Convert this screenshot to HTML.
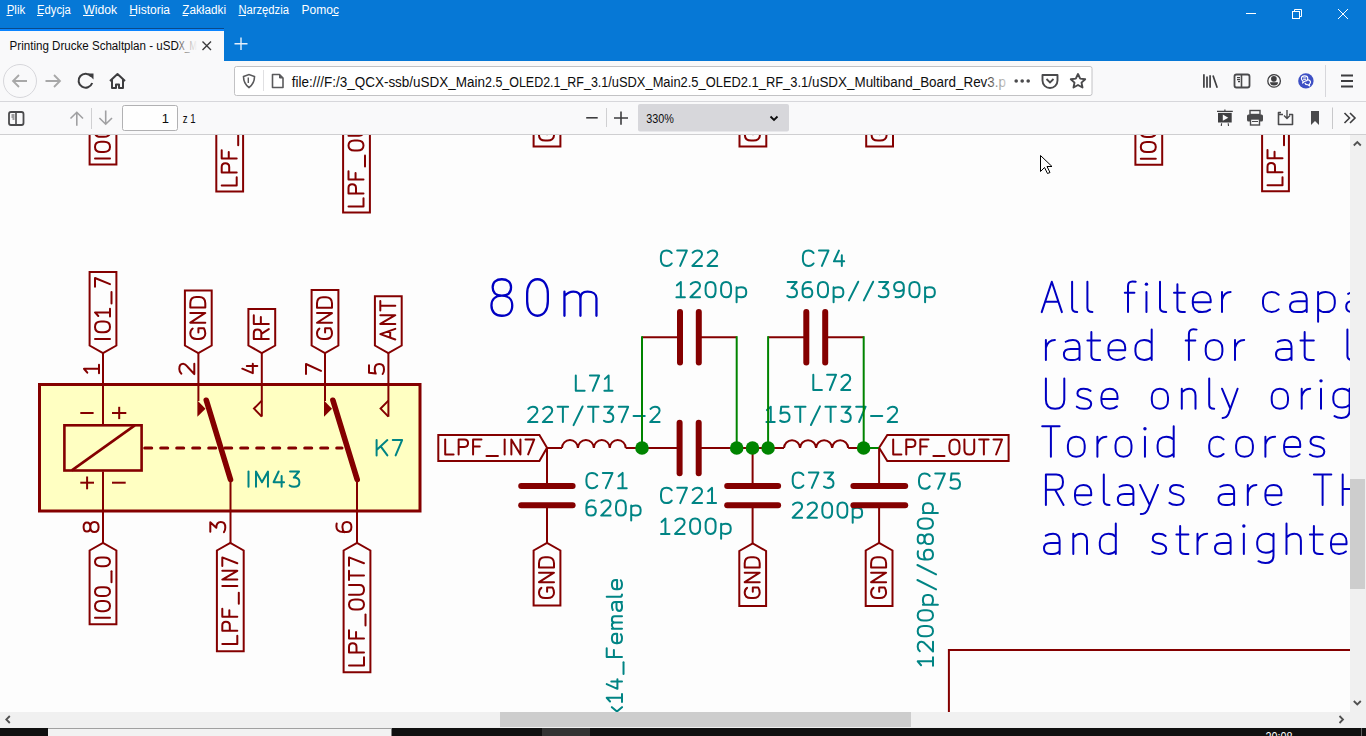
<!DOCTYPE html>
<html><head><meta charset="utf-8"><title>uSDX</title>
<style>html,body{margin:0;padding:0;width:1366px;height:736px;overflow:hidden;background:#f9f9fa}svg{display:block}text{font-family:"Liberation Sans",sans-serif}</style>
</head><body>
<svg width="1366" height="736" viewBox="0 0 1366 736" font-family='"Liberation Sans", sans-serif'>
<rect x="0" y="0" width="1366" height="61" fill="#0678d6"/>
<text x="6.7" y="13.8" font-size="12.3" fill="#ffffff" textLength="18.5" lengthAdjust="spacingAndGlyphs" >Plik</text>
<text x="37.1" y="13.8" font-size="12.3" fill="#ffffff" textLength="33.8" lengthAdjust="spacingAndGlyphs" >Edycja</text>
<text x="83.3" y="13.8" font-size="12.3" fill="#ffffff" textLength="33.8" lengthAdjust="spacingAndGlyphs" >Widok</text>
<text x="129.3" y="13.8" font-size="12.3" fill="#ffffff" textLength="40.7" lengthAdjust="spacingAndGlyphs" >Historia</text>
<text x="182.3" y="13.8" font-size="12.3" fill="#ffffff" textLength="43.7" lengthAdjust="spacingAndGlyphs" >Zakładki</text>
<text x="238.4" y="13.8" font-size="12.3" fill="#ffffff" textLength="50.5" lengthAdjust="spacingAndGlyphs" >Narzędzia</text>
<text x="301.5" y="13.8" font-size="12.3" fill="#ffffff" textLength="37.4" lengthAdjust="spacingAndGlyphs" >Pomoc</text>
<rect x="6.5" y="15" width="6.300000000000001" height="1" fill="#ffffff"/>
<rect x="37" y="15" width="6" height="1" fill="#ffffff"/>
<rect x="83" y="15" width="11" height="1" fill="#ffffff"/>
<rect x="129.5" y="15" width="6.5" height="1" fill="#ffffff"/>
<rect x="182.5" y="15" width="5.5" height="1" fill="#ffffff"/>
<rect x="238.5" y="15" width="7.5" height="1" fill="#ffffff"/>
<rect x="332" y="15" width="6.5" height="1" fill="#ffffff"/>
<rect x="1246" y="13" width="10" height="1" fill="#fff"/>
<rect x="1292.5" y="11.5" width="7" height="7" fill="none" stroke="#fff" stroke-width="1"/>
<path d="M1294.5 11.5V9.5H1301.5V16.5H1299.5" fill="none" stroke="#fff" stroke-width="1"/>
<path d="M1338 9L1348 19M1348 9L1338 19" stroke="#fff" stroke-width="1"/>
<rect x="0" y="28" width="224" height="33" fill="#f9f9fa"/>
<rect x="0" y="28" width="224" height="1" fill="#0a4a8a"/>
<rect x="0" y="29" width="224" height="2" fill="#0a84ff"/>
<defs><linearGradient id="fade" x1="0" x2="1"><stop offset="0" stop-color="#0c0c0d"/><stop offset="0.82" stop-color="#0c0c0d"/><stop offset="1" stop-color="#0c0c0d" stop-opacity="0"/></linearGradient></defs>
<text x="9.6" y="49.9" font-size="12.3" fill="#0c0c0d" textLength="169.2" lengthAdjust="spacingAndGlyphs" >Printing Drucke Schaltplan - uSD</text>
<defs><linearGradient id="fade2" gradientUnits="userSpaceOnUse" x1="178" x2="196" y1="0" y2="0"><stop offset="0" stop-color="#0c0c0d" stop-opacity="0.75"/><stop offset="1" stop-color="#0c0c0d" stop-opacity="0.05"/></linearGradient></defs>
<text x="178.8" y="49.9" font-size="12.3" fill="url(#fade2)" textLength="18.2" lengthAdjust="spacingAndGlyphs" >X_M</text>
<path d="M202.5 41.5L211 50M211 41.5L202.5 50" stroke="#3a3a3c" stroke-width="1.4"/>
<path d="M241 37.5V50M234.5 43.8H247.5" stroke="#e6f0fb" stroke-width="1.4"/>
<rect x="0" y="61" width="1366" height="41" fill="#f9f9fa"/>
<rect x="0" y="101" width="1366" height="1" fill="#d7d7db"/>
<circle cx="20" cy="81" r="16.5" fill="#f9f9fa" stroke="#d7d7db" stroke-width="1"/>
<path d="M27 81H13M19 75L13 81L19 87" fill="none" stroke="#a8a8a8" stroke-width="1.8" stroke-linejoin="miter"/>
<path d="M45.5 81H60M54 75L60 81L54 87" fill="none" stroke="#a8a8a8" stroke-width="1.8"/>
<path d="M92.2 83 A7 7 0 1 1 91.2 76.5" fill="none" stroke="#3d3d3f" stroke-width="2"/><path d="M87.5 73.5H93.5V79.5Z" fill="#3d3d3f"/>
<path d="M110 81L117.5 74L125 81M112 79.5V88H116V84.5H119V88H123V79.5" fill="none" stroke="#3d3d3f" stroke-width="2" stroke-linejoin="round"/>
<rect x="234.5" y="66.5" width="857.5" height="29" rx="2" fill="#ffffff" stroke="#c2c2c4" stroke-width="1"/>
<path d="M243.5 76.5L249 74.5L254.5 76.5C254.5 82 252.5 85 249 87.5C245.5 85 243.5 82 243.5 76.5Z" fill="none" stroke="#5a5a5c" stroke-width="1.6"/><path d="M248.3 77.5V83" stroke="#5a5a5c" stroke-width="1.4"/>
<rect x="263" y="70" width="1" height="21" fill="#e0e0e2"/>
<path d="M272.5 74.5H279.5L283 78V87.5H272.5Z" fill="none" stroke="#5a5a5c" stroke-width="1.6" stroke-linejoin="round"/><path d="M279.5 74.5V78H283" fill="#5a5a5c" stroke="#5a5a5c" stroke-width="1"/>
<defs><linearGradient id="ufade" x1="0" x2="1"><stop offset="0" stop-color="#0c0c0d"/><stop offset="0.968" stop-color="#0c0c0d"/><stop offset="0.982" stop-color="#0c0c0d" stop-opacity="0.55"/><stop offset="1" stop-color="#0c0c0d" stop-opacity="0.25"/></linearGradient></defs>
<text x="291.8" y="87.0" font-size="14" fill="#0c0c0d" textLength="193.2" lengthAdjust="spacingAndGlyphs" >file:///F:/3_QCX-ssb/uSDX_Main</text>
<text x="485.0" y="87.0" font-size="14" fill="#0c0c0d" textLength="123.2" lengthAdjust="spacingAndGlyphs" >2.5_OLED2.1_RF_3.1</text>
<text x="608.2" y="87.0" font-size="14" fill="#0c0c0d" textLength="200.0" lengthAdjust="spacingAndGlyphs" >/uSDX_Main2.5_OLED2.1_RF_3.1</text>
<defs><linearGradient id="ufade2" gradientUnits="userSpaceOnUse" x1="975" x2="1006" y1="0" y2="0"><stop offset="0" stop-color="#0c0c0d"/><stop offset="0.35" stop-color="#0c0c0d"/><stop offset="0.6" stop-color="#0c0c0d" stop-opacity="0.55"/><stop offset="1" stop-color="#0c0c0d" stop-opacity="0.22"/></linearGradient></defs>
<text x="808.2" y="87.0" font-size="14" fill="url(#ufade2)" textLength="197.8" lengthAdjust="spacingAndGlyphs" >/uSDX_Multiband_Board_Rev3.p</text>
<circle cx="1016.2" cy="81" r="1.8" fill="#4a4a4c"/>
<circle cx="1022.2" cy="81" r="1.8" fill="#4a4a4c"/>
<circle cx="1028.2" cy="81" r="1.8" fill="#4a4a4c"/>
<path d="M1042.5 75H1057.5V80.5A7.5 7.5 0 0 1 1042.5 80.5Z" fill="none" stroke="#4a4a4c" stroke-width="1.9" stroke-linejoin="round"/><path d="M1046.5 79L1050 82.5L1053.5 79" fill="none" stroke="#4a4a4c" stroke-width="1.8"/>
<path d="M1078 74L1080.2 78.6L1085.2 79.2L1081.5 82.6L1082.5 87.5L1078 85L1073.5 87.5L1074.5 82.6L1070.8 79.2L1075.8 78.6Z" fill="none" stroke="#4a4a4c" stroke-width="1.9" stroke-linejoin="round"/>
<path d="M1203.9 74.2V87.8M1207 76.4V87.8M1210.1 75.3V87.8M1213 75.4L1217.2 87.8" stroke="#3f3f41" stroke-width="1.7"/>
<rect x="1234.5" y="74.5" width="15" height="13" rx="2" fill="none" stroke="#4a4a4c" stroke-width="1.8"/><path d="M1241.5 74.5V87.5" stroke="#4a4a4c" stroke-width="1.6"/><path d="M1237 77.6H1240M1237 79.6H1240M1238 81.6H1240" stroke="#3f3f41" stroke-width="1.1"/>
<circle cx="1274.1" cy="80.9" r="6.3" fill="none" stroke="#3f3f41" stroke-width="1.3"/><circle cx="1273.9" cy="78.8" r="2.85" fill="#3f3f41"/><path d="M1270 82.3H1278A4 3.2 0 0 1 1270 82.3Z" fill="#3f3f41"/>
<circle cx="1305.9" cy="80.9" r="7.7" fill="#3e50c4"/><path d="M1301.4 78.6C1301.4 76.9 1302.9 75.9 1304.6 75.9C1306.3 75.9 1307.8 76.9 1307.8 78.6C1307.8 80.3 1306.3 81.3 1304.6 81.3L1302.6 83.2L1303 81C1302 80.5 1301.4 79.7 1301.4 78.6Z" fill="#3e50c4" stroke="#fff" stroke-width="1.1" stroke-linejoin="round"/><path d="M1307.8 79.8C1309.3 80 1310.5 81 1310.5 82.3C1310.5 83.2 1310 83.8 1309.3 84.2L1309.7 86L1307.8 84.8C1306.4 84.8 1305.2 84.1 1304.9 83" fill="none" stroke="#fff" stroke-width="1.1" stroke-linejoin="round"/><path d="M1303.1 77.9H1306.1M1303.1 79.4H1306.1" stroke="#fff" stroke-width="0.9"/>
<rect x="1325" y="65" width="1" height="32" fill="#d7d7db"/>
<path d="M1341 75.5H1353M1341 81H1353M1341 86.5H1353" stroke="#3d3d3f" stroke-width="1.8"/>
<rect x="0" y="102" width="1366" height="33" fill="#f9f9fa"/>
<rect x="0" y="134" width="1366" height="1" fill="#cfcfd1"/>
<rect x="9" y="112" width="14.5" height="13" rx="2" fill="none" stroke="#4a4a4c" stroke-width="1.8"/><path d="M16 112V125" stroke="#4a4a4c" stroke-width="1.6"/><path d="M11.5 115H14.5M11.5 117H14.5M12.5 119H14.5" stroke="#3f3f41" stroke-width="1.1"/>
<path d="M76.8 125.8V112.5M70.5 118.5L76.8 112.3L83 118.5" fill="none" stroke="#a0a0a2" stroke-width="1.6"/>
<rect x="91" y="108" width="1" height="21" fill="#d0d0d2"/>
<path d="M105.7 110.5V124M99.4 118L105.7 124.2L112 118" fill="none" stroke="#a0a0a2" stroke-width="1.6"/>
<rect x="122.5" y="105.5" width="55" height="25" rx="2" fill="#fefefe" stroke="#b1b1b3" stroke-width="1"/>
<text x="169.0" y="123.1" font-size="13" fill="#0c0c0d" text-anchor="end" >1</text>
<text x="182.8" y="123.1" font-size="13" fill="#0c0c0d" textLength="12.8" lengthAdjust="spacingAndGlyphs" >z 1</text>
<path d="M586.2 117.8H597.7" stroke="#3d3d3f" stroke-width="1.6"/>
<rect x="606" y="108" width="1" height="19" fill="#d0d0d2"/>
<path d="M614 118H628M621 111.5V124.7" stroke="#3d3d3f" stroke-width="1.6"/>
<rect x="638" y="104" width="151" height="27.5" rx="2" fill="#d7d7db"/>
<text x="646.2" y="122.7" font-size="12.5" fill="#0c0c0d" textLength="27.6" lengthAdjust="spacingAndGlyphs" >330%</text>
<path d="M770.5 116.5L774 120L777.5 116.5" fill="none" stroke="#0c0c0d" stroke-width="1.8"/>
<path d="M1217 111.4H1232.8M1224.9 109.6V111.4" stroke="#3f3f41" stroke-width="1.2"/><rect x="1218" y="112.9" width="13.7" height="9.6" fill="#3f3f41"/><path d="M1222.8 114.6V120.8L1228.3 117.7Z" fill="#f9f9fa"/><path d="M1221.6 123.3L1221.3 126M1228.2 123.3L1228.5 126" stroke="#3f3f41" stroke-width="1.1"/>
<rect x="1250" y="110.5" width="10" height="4" fill="none" stroke="#4a4a4c" stroke-width="1.4"/><rect x="1247" y="114.5" width="16" height="7" rx="1.5" fill="#4a4a4c"/><rect x="1250.5" y="119" width="9" height="6" fill="#f9f9fa" stroke="#4a4a4c" stroke-width="1.4"/><path d="M1252 121.5H1258" stroke="#4a4a4c" stroke-width="1"/>
<path d="M1281 112.5H1278.5V124.5H1292.5V114.5H1289M1278.5 114.5H1283" fill="none" stroke="#4a4a4c" stroke-width="1.6" stroke-linejoin="round"/><path d="M1287 110V118.5M1284 115.5L1287 118.5L1290 115.5" fill="none" stroke="#4a4a4c" stroke-width="1.4"/>
<path d="M1311 111H1319V125L1315 121L1311 125Z" fill="#4a4a4c"/>
<rect x="1332" y="107.5" width="1" height="21.5" fill="#c8c8ca"/>
<path d="M1344.5 113L1349.5 118L1344.5 123M1350 113L1355 118L1350 123" fill="none" stroke="#3d3d3f" stroke-width="1.6"/>
<svg x="0" y="135" width="1350" height="577" viewBox="0 135 1350 577" overflow="hidden">
<rect x="0" y="135" width="1350" height="577" fill="#fdfdfd"/>
<g font-family='"Liberation Sans", sans-serif'>
<defs><path id="k65" d="M0 0L.33 -1L.66 0M.12 -.34L.54 -.34" vector-effect="non-scaling-stroke"/><path id="k67" d="M.58 -.84C.52 -.95 .42 -1 .3 -1C.1 -1 0 -.82 0 -.58L0 -.42C0 -.18 .1 0 .3 0C.42 0 .52 -.05 .58 -.16" vector-effect="non-scaling-stroke"/><path id="k68" d="M0 0L0 -1L.24 -1C.46 -1 .58 -.84 .58 -.6L.58 -.4C.58 -.16 .46 0 .24 0Z" vector-effect="non-scaling-stroke"/><path id="k70" d="M.5 -1L0 -1L0 0M0 -.53L.4 -.53" vector-effect="non-scaling-stroke"/><path id="k71" d="M.58 -.84C.52 -.95 .42 -1 .3 -1C.1 -1 0 -.82 0 -.58L0 -.42C0 -.18 .1 0 .3 0C.42 0 .52 -.04 .6 -.1L.6 -.46L.36 -.46" vector-effect="non-scaling-stroke"/><path id="k72" d="M0 -1L0 0M.6 -1L.6 0M0 -.53L.6 -.53" vector-effect="non-scaling-stroke"/><path id="k73" d="M0 -1L0 0" vector-effect="non-scaling-stroke"/><path id="k75" d="M0 -1L0 0M.6 -1L0 -.36M.22 -.6L.6 0" vector-effect="non-scaling-stroke"/><path id="k76" d="M0 -1L0 0L.5 0" vector-effect="non-scaling-stroke"/><path id="k77" d="M0 0L0 -1L.32 -.3L.64 -1L.64 0" vector-effect="non-scaling-stroke"/><path id="k78" d="M0 0L0 -1L.54 0L.54 -1" vector-effect="non-scaling-stroke"/><path id="k79" d="M.31 -1C.1 -1 0 -.84 0 -.6L0 -.4C0 -.16 .1 0 .31 0C.52 0 .62 -.16 .62 -.4L.62 -.6C.62 -.84 .52 -1 .31 -1Z" vector-effect="non-scaling-stroke"/><path id="k80" d="M0 0L0 -1L.34 -1C.49 -1 .56 -.9 .56 -.76C.56 -.6 .49 -.5 .34 -.5L0 -.5" vector-effect="non-scaling-stroke"/><path id="k82" d="M0 0L0 -1L.34 -1C.49 -1 .56 -.9 .56 -.76C.56 -.6 .49 -.5 .34 -.5L0 -.5M.3 -.5L.58 0" vector-effect="non-scaling-stroke"/><path id="k83" d="M.54 -.88C.46 -.97 .38 -1 .27 -1C.1 -1 .02 -.9 .02 -.76C.02 -.6 .14 -.56 .28 -.52C.46 -.47 .56 -.4 .56 -.25C.56 -.08 .44 0 .28 0C.14 0 .06 -.04 0 -.1" vector-effect="non-scaling-stroke"/><path id="k84" d="M0 -1L.58 -1M.29 -1L.29 0" vector-effect="non-scaling-stroke"/><path id="k85" d="M0 -1L0 -.3C0 -.1 .12 0 .3 0C.48 0 .6 -.1 .6 -.3L.6 -1" vector-effect="non-scaling-stroke"/><path id="k88" d="M0 -1L.6 0M.6 -1L0 0" vector-effect="non-scaling-stroke"/><path id="k97" d="M.06 -.6C.14 -.65 .22 -.66 .3 -.66C.45 -.66 .52 -.58 .52 -.44L.52 0M.52 -.36L.22 -.36C.08 -.36 0 -.29 0 -.18C0 -.07 .08 0 .22 0L.3 0C.4 0 .48 -.04 .52 -.1" vector-effect="non-scaling-stroke"/><path id="k99" d="M.5 -.57C.44 -.63 .37 -.66 .28 -.66C.1 -.66 0 -.54 0 -.38L0 -.28C0 -.12 .1 0 .28 0C.37 0 .44 -.03 .5 -.09" vector-effect="non-scaling-stroke"/><path id="k100" d="M.52 -1L.52 0M.52 -.1C.46 -.03 .38 0 .28 0C.1 0 0 -.12 0 -.28L0 -.38C0 -.54 .1 -.66 .28 -.66C.38 -.66 .46 -.63 .52 -.56" vector-effect="non-scaling-stroke"/><path id="k101" d="M.02 -.32L.54 -.32L.54 -.4C.54 -.56 .44 -.66 .28 -.66C.1 -.66 0 -.54 0 -.38L0 -.28C0 -.12 .1 0 .28 0C.38 0 .46 -.03 .52 -.08" vector-effect="non-scaling-stroke"/><path id="k102" d="M.34 -1C.3 -1.01 .27 -1.01 .24 -1.01C.14 -1.01 .1 -.95 .1 -.85L.1 0M0 -.64L.3 -.64" vector-effect="non-scaling-stroke"/><path id="k103" d="M.52 -.66L.52 .06C.52 .22 .42 .3 .26 .3C.18 .3 .1 .28 .04 .24M.52 -.56C.46 -.63 .38 -.66 .28 -.66C.1 -.66 0 -.54 0 -.4L0 -.3C0 -.14 .1 -.04 .28 -.04C.38 -.04 .46 -.07 .52 -.14" vector-effect="non-scaling-stroke"/><path id="k104" d="M0 -1L0 0M0 -.54C.08 -.62 .16 -.66 .26 -.66C.4 -.66 .48 -.58 .48 -.44L.48 0" vector-effect="non-scaling-stroke"/><path id="k105" d="M0 -.66L0 0" vector-effect="non-scaling-stroke"/><path id="k108" d="M0 -1L0 -.14C0 -.05 .04 0 .14 0" vector-effect="non-scaling-stroke"/><path id="k109" d="M0 -.66L0 0M0 -.54C.06 -.62 .12 -.66 .2 -.66C.3 -.66 .36 -.59 .36 -.48L.36 0M.36 -.48C.36 -.59 .42 -.66 .52 -.66C.64 -.66 .72 -.59 .72 -.48L.72 0" vector-effect="non-scaling-stroke"/><path id="k110" d="M0 -.66L0 0M0 -.54C.08 -.62 .16 -.66 .25 -.66C.38 -.66 .46 -.58 .46 -.44L.46 0" vector-effect="non-scaling-stroke"/><path id="k111" d="M.27 -.66C.09 -.66 0 -.54 0 -.38L0 -.28C0 -.12 .09 0 .27 0C.45 0 .54 -.12 .54 -.28L.54 -.38C.54 -.54 .45 -.66 .27 -.66Z" vector-effect="non-scaling-stroke"/><path id="k112" d="M0 -.66L0 .32M0 -.56C.06 -.63 .14 -.66 .24 -.66C.42 -.66 .52 -.54 .52 -.38L.52 -.28C.52 -.12 .42 0 .24 0C.14 0 .06 -.03 0 -.1" vector-effect="non-scaling-stroke"/><path id="k114" d="M0 -.66L0 0M0 -.4C.04 -.56 .14 -.66 .3 -.66" vector-effect="non-scaling-stroke"/><path id="k115" d="M.44 -.59C.38 -.64 .31 -.66 .22 -.66C.09 -.66 .02 -.59 .02 -.5C.02 -.4 .1 -.37 .23 -.35C.38 -.32 .46 -.27 .46 -.17C.46 -.06 .37 0 .23 0C.13 0 .06 -.02 0 -.07" vector-effect="non-scaling-stroke"/><path id="k116" d="M.1 -.92L.1 -.14C.1 -.05 .15 0 .24 0L.32 0M0 -.64L.32 -.64" vector-effect="non-scaling-stroke"/><path id="k120" d="M0 -.66L.5 0M.5 -.66L0 0" vector-effect="non-scaling-stroke"/><path id="k121" d="M0 -.66L.27 -.02M.52 -.66L.22 .16C.18 .26 .12 .3 .02 .3" vector-effect="non-scaling-stroke"/><path id="k117" d="M0 -.66L0 -.22C0 -.08 .08 0 .21 0C.3 0 .38 -.04 .46 -.12M.46 -.66L.46 0" vector-effect="non-scaling-stroke"/><path id="k118" d="M0 -.66L.25 0L.5 -.66" vector-effect="non-scaling-stroke"/><path id="k98" d="M0 -1L0 0M0 -.56C.06 -.63 .14 -.66 .24 -.66C.42 -.66 .52 -.54 .52 -.38L.52 -.28C.52 -.12 .42 0 .24 0C.14 0 .06 -.03 0 -.1" vector-effect="non-scaling-stroke"/><path id="k48" d="M.27 -1C.09 -1 0 -.82 0 -.6L0 -.4C0 -.18 .09 0 .27 0C.45 0 .54 -.18 .54 -.4L.54 -.6C.54 -.82 .45 -1 .27 -1Z" vector-effect="non-scaling-stroke"/><path id="k49" d="M.03 -.78L.24 -1L.24 0M0 0L.46 0" vector-effect="non-scaling-stroke"/><path id="k50" d="M.02 -.86C.08 -.95 .16 -1 .26 -1C.42 -1 .52 -.9 .52 -.74C.52 -.62 .46 -.54 .36 -.44L0 0L.52 0" vector-effect="non-scaling-stroke"/><path id="k51" d="M.02 -1L.5 -1L.22 -.6C.42 -.6 .52 -.5 .52 -.3C.52 -.1 .4 0 .24 0C.14 0 .06 -.03 0 -.09" vector-effect="non-scaling-stroke"/><path id="k52" d="M.27 -1L0 -.3L.56 -.3M.43 -.7L.43 0" vector-effect="non-scaling-stroke"/><path id="k53" d="M.46 -1L.06 -1L.02 -.55C.1 -.6 .18 -.62 .26 -.62C.42 -.62 .52 -.5 .52 -.32C.52 -.12 .42 0 .24 0C.14 0 .06 -.03 0 -.09" vector-effect="non-scaling-stroke"/><path id="k54" d="M.44 -.98C.38 -1 .32 -1 .28 -1C.1 -1 0 -.84 0 -.56L0 -.32C0 -.12 .1 0 .26 0C.42 0 .52 -.12 .52 -.3C.52 -.48 .42 -.6 .26 -.6C.14 -.6 .05 -.55 0 -.46" vector-effect="non-scaling-stroke"/><path id="k55" d="M0 -1L.52 -1L.16 0" vector-effect="non-scaling-stroke"/><path id="k56" d="M.26 -.55C.1 -.55 .03 -.64 .03 -.78C.03 -.92 .12 -1 .26 -1C.4 -1 .49 -.92 .49 -.78C.49 -.64 .42 -.55 .26 -.55C.1 -.55 0 -.45 0 -.28C0 -.1 .1 0 .26 0C.42 0 .52 -.1 .52 -.28C.52 -.45 .42 -.55 .26 -.55Z" vector-effect="non-scaling-stroke"/><path id="k57" d="M.08 -.02C.14 0 .2 0 .24 0C.42 0 .52 -.16 .52 -.44L.52 -.68C.52 -.88 .42 -1 .26 -1C.1 -1 0 -.88 0 -.7C0 -.52 .1 -.4 .26 -.4C.38 -.4 .47 -.45 .52 -.54" vector-effect="non-scaling-stroke"/><path id="k95" d="M0 .1L.68 .1" vector-effect="non-scaling-stroke"/><path id="k47" d="M.5 -1.02L0 .2" vector-effect="non-scaling-stroke"/><path id="k45" d="M0 -.4L.62 -.4" vector-effect="non-scaling-stroke"/><path id="k43" d="M0 -.5L.56 -.5M.28 -.78L.28 -.22" vector-effect="non-scaling-stroke"/><path id="k37" d="M.6 -1L0 0" vector-effect="non-scaling-stroke"/></defs>
<polyline points="89.6,120 89.6,164.6 116.4,164.6 116.4,120" fill="none" stroke="#840000" stroke-width="2"/>
<g transform="translate(110.00 158.60) rotate(-90)" stroke="#840000" stroke-width="2.0" fill="none" stroke-linecap="round" stroke-linejoin="round">
<use href="#k73" transform="translate(0.00 0) scale(15.000 15.000)"/>
<use href="#k79" transform="translate(6.59 0) scale(16.475 15.000)"/>
<use href="#k48" transform="translate(21.75 0) scale(16.475 15.000)"/>
<use href="#k95" transform="translate(35.59 0) scale(16.475 15.000)"/>
<use href="#k54" transform="translate(51.73 0) scale(16.475 15.000)"/>
</g>
<polyline points="216.29999999999998,120 216.29999999999998,191.5 243.1,191.5 243.1,120" fill="none" stroke="#840000" stroke-width="2"/>
<g transform="translate(236.70 185.50) rotate(-90)" stroke="#840000" stroke-width="2.0" fill="none" stroke-linecap="round" stroke-linejoin="round">
<use href="#k76" transform="translate(0.00 0) scale(16.321 15.000)"/>
<use href="#k80" transform="translate(13.06 0) scale(16.321 15.000)"/>
<use href="#k70" transform="translate(27.09 0) scale(16.321 15.000)"/>
<use href="#k95" transform="translate(40.15 0) scale(16.321 15.000)"/>
<use href="#k73" transform="translate(57.78 0) scale(15.000 15.000)"/>
<use href="#k78" transform="translate(64.30 0) scale(16.321 15.000)"/>
<use href="#k54" transform="translate(78.01 0) scale(16.321 15.000)"/>
</g>
<polyline points="343.1,120 343.1,212.4 369.9,212.4 369.9,120" fill="none" stroke="#840000" stroke-width="2"/>
<g transform="translate(363.50 206.40) rotate(-90)" stroke="#840000" stroke-width="2.0" fill="none" stroke-linecap="round" stroke-linejoin="round">
<use href="#k76" transform="translate(0.00 0) scale(16.216 15.000)"/>
<use href="#k80" transform="translate(12.97 0) scale(16.216 15.000)"/>
<use href="#k70" transform="translate(26.92 0) scale(16.216 15.000)"/>
<use href="#k95" transform="translate(39.89 0) scale(16.216 15.000)"/>
<use href="#k79" transform="translate(55.78 0) scale(16.216 15.000)"/>
<use href="#k85" transform="translate(70.70 0) scale(16.216 15.000)"/>
<use href="#k84" transform="translate(85.30 0) scale(16.216 15.000)"/>
<use href="#k54" transform="translate(99.57 0) scale(16.216 15.000)"/>
</g>
<polyline points="533.6,120 533.6,146.5 560.4,146.5 560.4,120" fill="none" stroke="#840000" stroke-width="2"/>
<g transform="translate(554.00 140.50) rotate(-90)" stroke="#840000" stroke-width="2.0" fill="none" stroke-linecap="round" stroke-linejoin="round">
<use href="#k71" transform="translate(0.00 0) scale(17.586 15.000)"/>
<use href="#k78" transform="translate(15.83 0) scale(17.586 15.000)"/>
<use href="#k68" transform="translate(30.60 0) scale(17.586 15.000)"/>
</g>
<polyline points="739.5,120 739.5,146.5 766.3,146.5 766.3,120" fill="none" stroke="#840000" stroke-width="2"/>
<g transform="translate(759.90 140.50) rotate(-90)" stroke="#840000" stroke-width="2.0" fill="none" stroke-linecap="round" stroke-linejoin="round">
<use href="#k71" transform="translate(0.00 0) scale(17.586 15.000)"/>
<use href="#k78" transform="translate(15.83 0) scale(17.586 15.000)"/>
<use href="#k68" transform="translate(30.60 0) scale(17.586 15.000)"/>
</g>
<polyline points="866.2,120 866.2,146.5 893.0,146.5 893.0,120" fill="none" stroke="#840000" stroke-width="2"/>
<g transform="translate(886.60 140.50) rotate(-90)" stroke="#840000" stroke-width="2.0" fill="none" stroke-linecap="round" stroke-linejoin="round">
<use href="#k71" transform="translate(0.00 0) scale(17.586 15.000)"/>
<use href="#k78" transform="translate(15.83 0) scale(17.586 15.000)"/>
<use href="#k68" transform="translate(30.60 0) scale(17.586 15.000)"/>
</g>
<polyline points="1135.3999999999999,120 1135.3999999999999,164.7 1162.2,164.7 1162.2,120" fill="none" stroke="#840000" stroke-width="2"/>
<g transform="translate(1155.80 158.70) rotate(-90)" stroke="#840000" stroke-width="2.0" fill="none" stroke-linecap="round" stroke-linejoin="round">
<use href="#k73" transform="translate(0.00 0) scale(15.000 15.000)"/>
<use href="#k79" transform="translate(6.59 0) scale(16.475 15.000)"/>
<use href="#k48" transform="translate(21.75 0) scale(16.475 15.000)"/>
<use href="#k95" transform="translate(35.59 0) scale(16.475 15.000)"/>
<use href="#k55" transform="translate(51.73 0) scale(16.475 15.000)"/>
</g>
<polyline points="1262.1,120 1262.1,191.3 1288.9,191.3 1288.9,120" fill="none" stroke="#840000" stroke-width="2"/>
<g transform="translate(1282.50 185.30) rotate(-90)" stroke="#840000" stroke-width="2.0" fill="none" stroke-linecap="round" stroke-linejoin="round">
<use href="#k76" transform="translate(0.00 0) scale(16.321 15.000)"/>
<use href="#k80" transform="translate(13.06 0) scale(16.321 15.000)"/>
<use href="#k70" transform="translate(27.09 0) scale(16.321 15.000)"/>
<use href="#k95" transform="translate(40.15 0) scale(16.321 15.000)"/>
<use href="#k73" transform="translate(57.78 0) scale(15.000 15.000)"/>
<use href="#k78" transform="translate(64.30 0) scale(16.321 15.000)"/>
<use href="#k56" transform="translate(78.01 0) scale(16.321 15.000)"/>
</g>
<rect x="39.5" y="384.5" width="380.5" height="126.5" fill="#ffffc2" stroke="#840000" stroke-width="3"/>
<polygon points="89.6,272 116.4,272 116.4,345.5 103,353 89.6,345.5" fill="none" stroke="#840000" stroke-width="2" stroke-linejoin="miter"/>
<g transform="translate(110.00 339.00) rotate(-90)" stroke="#840000" stroke-width="2.0" fill="none" stroke-linecap="round" stroke-linejoin="round">
<use href="#k73" transform="translate(0.00 0) scale(15.000 15.000)"/>
<use href="#k79" transform="translate(6.82 0) scale(17.039 15.000)"/>
<use href="#k49" transform="translate(22.49 0) scale(17.039 15.000)"/>
<use href="#k95" transform="translate(35.44 0) scale(17.039 15.000)"/>
<use href="#k55" transform="translate(52.14 0) scale(17.039 15.000)"/>
</g>
<polygon points="184.9,290.5 211.70000000000002,290.5 211.70000000000002,345.5 198.3,353 184.9,345.5" fill="none" stroke="#840000" stroke-width="2" stroke-linejoin="miter"/>
<g transform="translate(205.30 339.00) rotate(-90)" stroke="#840000" stroke-width="2.0" fill="none" stroke-linecap="round" stroke-linejoin="round">
<use href="#k71" transform="translate(0.00 0) scale(18.103 15.000)"/>
<use href="#k78" transform="translate(16.29 0) scale(18.103 15.000)"/>
<use href="#k68" transform="translate(31.50 0) scale(18.103 15.000)"/>
</g>
<polygon points="248.4,309 275.2,309 275.2,345.5 261.8,353 248.4,345.5" fill="none" stroke="#840000" stroke-width="2" stroke-linejoin="miter"/>
<g transform="translate(268.80 339.00) rotate(-90)" stroke="#840000" stroke-width="2.0" fill="none" stroke-linecap="round" stroke-linejoin="round">
<use href="#k82" transform="translate(0.00 0) scale(17.174 15.000)"/>
<use href="#k70" transform="translate(15.11 0) scale(17.174 15.000)"/>
</g>
<polygon points="311.6,290.1 338.4,290.1 338.4,345.5 325,353 311.6,345.5" fill="none" stroke="#840000" stroke-width="2" stroke-linejoin="miter"/>
<g transform="translate(332.00 339.00) rotate(-90)" stroke="#840000" stroke-width="2.0" fill="none" stroke-linecap="round" stroke-linejoin="round">
<use href="#k71" transform="translate(0.00 0) scale(18.017 15.000)"/>
<use href="#k78" transform="translate(16.22 0) scale(18.017 15.000)"/>
<use href="#k68" transform="translate(31.35 0) scale(18.017 15.000)"/>
</g>
<polygon points="374.90000000000003,296.2 401.7,296.2 401.7,345.5 388.3,353 374.90000000000003,345.5" fill="none" stroke="#840000" stroke-width="2" stroke-linejoin="miter"/>
<g transform="translate(395.30 339.50) rotate(-90)" stroke="#840000" stroke-width="2.0" fill="none" stroke-linecap="round" stroke-linejoin="round">
<use href="#k65" transform="translate(0.00 0) scale(16.176 15.000)"/>
<use href="#k78" transform="translate(15.53 0) scale(16.176 15.000)"/>
<use href="#k84" transform="translate(29.12 0) scale(16.176 15.000)"/>
</g>
<polygon points="89.6,624.3 116.4,624.3 116.4,550.5 103,543 89.6,550.5" fill="none" stroke="#840000" stroke-width="2" stroke-linejoin="miter"/>
<g transform="translate(110.00 617.70) rotate(-90)" stroke="#840000" stroke-width="2.0" fill="none" stroke-linecap="round" stroke-linejoin="round">
<use href="#k73" transform="translate(0.00 0) scale(15.000 15.000)"/>
<use href="#k79" transform="translate(6.55 0) scale(16.386 15.000)"/>
<use href="#k48" transform="translate(21.63 0) scale(16.386 15.000)"/>
<use href="#k95" transform="translate(35.39 0) scale(16.386 15.000)"/>
<use href="#k48" transform="translate(51.45 0) scale(16.386 15.000)"/>
</g>
<polygon points="216.9,651.2 243.70000000000002,651.2 243.70000000000002,550.5 230.3,543 216.9,550.5" fill="none" stroke="#840000" stroke-width="2" stroke-linejoin="miter"/>
<g transform="translate(237.30 643.90) rotate(-90)" stroke="#840000" stroke-width="2.0" fill="none" stroke-linecap="round" stroke-linejoin="round">
<use href="#k76" transform="translate(0.00 0) scale(16.321 15.000)"/>
<use href="#k80" transform="translate(13.06 0) scale(16.321 15.000)"/>
<use href="#k70" transform="translate(27.09 0) scale(16.321 15.000)"/>
<use href="#k95" transform="translate(40.15 0) scale(16.321 15.000)"/>
<use href="#k73" transform="translate(57.78 0) scale(15.000 15.000)"/>
<use href="#k78" transform="translate(64.30 0) scale(16.321 15.000)"/>
<use href="#k55" transform="translate(78.01 0) scale(16.321 15.000)"/>
</g>
<polygon points="343.6,672.3 370.4,672.3 370.4,550.5 357,543 343.6,550.5" fill="none" stroke="#840000" stroke-width="2" stroke-linejoin="miter"/>
<g transform="translate(364.00 665.40) rotate(-90)" stroke="#840000" stroke-width="2.0" fill="none" stroke-linecap="round" stroke-linejoin="round">
<use href="#k76" transform="translate(0.00 0) scale(16.216 15.000)"/>
<use href="#k80" transform="translate(12.97 0) scale(16.216 15.000)"/>
<use href="#k70" transform="translate(26.92 0) scale(16.216 15.000)"/>
<use href="#k95" transform="translate(39.89 0) scale(16.216 15.000)"/>
<use href="#k79" transform="translate(55.78 0) scale(16.216 15.000)"/>
<use href="#k85" transform="translate(70.70 0) scale(16.216 15.000)"/>
<use href="#k84" transform="translate(85.30 0) scale(16.216 15.000)"/>
<use href="#k55" transform="translate(99.57 0) scale(16.216 15.000)"/>
</g>
<polygon points="533.6,605.6 560.4,605.6 560.4,550.5 547,543 533.6,550.5" fill="none" stroke="#840000" stroke-width="2" stroke-linejoin="miter"/>
<g transform="translate(554.00 598.00) rotate(-90)" stroke="#840000" stroke-width="2.0" fill="none" stroke-linecap="round" stroke-linejoin="round">
<use href="#k71" transform="translate(0.00 0) scale(17.586 15.000)"/>
<use href="#k78" transform="translate(15.83 0) scale(17.586 15.000)"/>
<use href="#k68" transform="translate(30.60 0) scale(17.586 15.000)"/>
</g>
<polygon points="739.3000000000001,606.1 766.1,606.1 766.1,551.0 752.7,543.5 739.3000000000001,551.0" fill="none" stroke="#840000" stroke-width="2" stroke-linejoin="miter"/>
<g transform="translate(759.70 598.00) rotate(-90)" stroke="#840000" stroke-width="2.0" fill="none" stroke-linecap="round" stroke-linejoin="round">
<use href="#k71" transform="translate(0.00 0) scale(17.586 15.000)"/>
<use href="#k78" transform="translate(15.83 0) scale(17.586 15.000)"/>
<use href="#k68" transform="translate(30.60 0) scale(17.586 15.000)"/>
</g>
<polygon points="865.7,606 892.5,606 892.5,550.5 879.1,543 865.7,550.5" fill="none" stroke="#840000" stroke-width="2" stroke-linejoin="miter"/>
<g transform="translate(886.10 598.00) rotate(-90)" stroke="#840000" stroke-width="2.0" fill="none" stroke-linecap="round" stroke-linejoin="round">
<use href="#k71" transform="translate(0.00 0) scale(17.586 15.000)"/>
<use href="#k78" transform="translate(15.83 0) scale(17.586 15.000)"/>
<use href="#k68" transform="translate(30.60 0) scale(17.586 15.000)"/>
</g>
<line x1="103" y1="353" x2="103" y2="424.1" stroke="#840000" stroke-width="2" stroke-linecap="butt"/>
<line x1="103" y1="471.6" x2="103" y2="543" stroke="#840000" stroke-width="2" stroke-linecap="butt"/>
<line x1="198.4" y1="353" x2="198.4" y2="401" stroke="#840000" stroke-width="2" stroke-linecap="butt"/>
<line x1="261.8" y1="353" x2="261.8" y2="416.5" stroke="#840000" stroke-width="2" stroke-linecap="butt"/>
<line x1="325" y1="353" x2="325" y2="401" stroke="#840000" stroke-width="2" stroke-linecap="butt"/>
<line x1="388.4" y1="353" x2="388.4" y2="416.7" stroke="#840000" stroke-width="2" stroke-linecap="butt"/>
<line x1="230.5" y1="480" x2="230.5" y2="543" stroke="#840000" stroke-width="2" stroke-linecap="butt"/>
<line x1="357" y1="480" x2="357" y2="543" stroke="#840000" stroke-width="2" stroke-linecap="butt"/>
<polygon points="197.4,400.5 205.5,408.7 197.4,416.8" fill="#840000"/>
<polygon points="324,400.5 332,408.7 324,416.8" fill="#840000"/>
<polyline points="261.8,400.6 254,408.6 261.8,416.6" fill="none" stroke="#840000" stroke-width="2"/>
<polyline points="388.4,400.6 380.6,408.6 388.4,416.6" fill="none" stroke="#840000" stroke-width="2"/>
<line x1="206.3" y1="400.3" x2="230.5" y2="479.5" stroke="#840000" stroke-width="5.6" stroke-linecap="round"/>
<line x1="332.9" y1="400.3" x2="357.2" y2="479.5" stroke="#840000" stroke-width="5.6" stroke-linecap="round"/>
<line x1="144.7" y1="447.9" x2="342" y2="447.9" stroke="#840000" stroke-width="3" stroke-linecap="round" stroke-dasharray="7 9"/>
<rect x="64.4" y="425.3" width="77.2" height="45.2" fill="none" stroke="#840000" stroke-width="2.6"/>
<line x1="71.8" y1="470.4" x2="134.8" y2="425.4" stroke="#840000" stroke-width="2.6" stroke-linecap="butt"/>
<line x1="80.3" y1="413" x2="93.6" y2="413" stroke="#840000" stroke-width="2" stroke-linecap="butt"/>
<line x1="112" y1="413" x2="126.3" y2="413" stroke="#840000" stroke-width="2" stroke-linecap="butt"/>
<line x1="119.2" y1="406.8" x2="119.2" y2="419.1" stroke="#840000" stroke-width="2" stroke-linecap="butt"/>
<line x1="80.3" y1="482.7" x2="94" y2="482.7" stroke="#840000" stroke-width="2" stroke-linecap="butt"/>
<line x1="87.1" y1="476.5" x2="87.1" y2="489.3" stroke="#840000" stroke-width="2" stroke-linecap="butt"/>
<line x1="112" y1="482.7" x2="125.7" y2="482.7" stroke="#840000" stroke-width="2" stroke-linecap="butt"/>
<g transform="translate(99.00 373.20) rotate(-90)" stroke="#840000" stroke-width="2.0" fill="none" stroke-linecap="round" stroke-linejoin="round">
<use href="#k49" transform="translate(0.00 0) scale(18.478 15.000)"/>
</g>
<g transform="translate(194.30 374.10) rotate(-90)" stroke="#840000" stroke-width="2.0" fill="none" stroke-linecap="round" stroke-linejoin="round">
<use href="#k50" transform="translate(0.00 0) scale(19.808 15.000)"/>
</g>
<g transform="translate(257.30 373.20) rotate(-90)" stroke="#840000" stroke-width="2.0" fill="none" stroke-linecap="round" stroke-linejoin="round">
<use href="#k52" transform="translate(0.00 0) scale(16.786 15.000)"/>
</g>
<g transform="translate(321.00 374.00) rotate(-90)" stroke="#840000" stroke-width="2.0" fill="none" stroke-linecap="round" stroke-linejoin="round">
<use href="#k55" transform="translate(0.00 0) scale(19.231 15.000)"/>
</g>
<g transform="translate(384.00 374.00) rotate(-90)" stroke="#840000" stroke-width="2.0" fill="none" stroke-linecap="round" stroke-linejoin="round">
<use href="#k53" transform="translate(0.00 0) scale(19.231 15.000)"/>
</g>
<g transform="translate(98.60 532.10) rotate(-90)" stroke="#840000" stroke-width="2.0" fill="none" stroke-linecap="round" stroke-linejoin="round">
<use href="#k56" transform="translate(0.00 0) scale(19.615 15.000)"/>
</g>
<g transform="translate(225.30 532.10) rotate(-90)" stroke="#840000" stroke-width="2.0" fill="none" stroke-linecap="round" stroke-linejoin="round">
<use href="#k51" transform="translate(0.00 0) scale(19.615 15.000)"/>
</g>
<g transform="translate(351.40 532.10) rotate(-90)" stroke="#840000" stroke-width="2.0" fill="none" stroke-linecap="round" stroke-linejoin="round">
<use href="#k54" transform="translate(0.00 0) scale(19.615 15.000)"/>
</g>
<g transform="translate(248.50 486.80)" stroke="#008484" stroke-width="2.0" fill="none" stroke-linecap="round" stroke-linejoin="round">
<use href="#k73" transform="translate(0.00 0) scale(15.300 15.300)"/>
<use href="#k77" transform="translate(7.49 0) scale(18.713 15.300)"/>
<use href="#k52" transform="translate(25.08 0) scale(18.713 15.300)"/>
<use href="#k51" transform="translate(41.17 0) scale(18.713 15.300)"/>
</g>
<g transform="translate(376.60 455.40)" stroke="#008484" stroke-width="2.0" fill="none" stroke-linecap="round" stroke-linejoin="round">
<use href="#k75" transform="translate(0.00 0) scale(17.958 15.300)"/>
<use href="#k55" transform="translate(16.16 0) scale(17.958 15.300)"/>
</g>
<g transform="translate(660.90 265.90)" stroke="#008484" stroke-width="2.0" fill="none" stroke-linecap="round" stroke-linejoin="round">
<use href="#k67" transform="translate(0.00 0) scale(18.520 15.300)"/>
<use href="#k55" transform="translate(16.30 0) scale(18.520 15.300)"/>
<use href="#k50" transform="translate(31.48 0) scale(18.520 15.300)"/>
<use href="#k50" transform="translate(46.67 0) scale(18.520 15.300)"/>
</g>
<g transform="translate(676.40 297.30)" stroke="#008484" stroke-width="2.0" fill="none" stroke-linecap="round" stroke-linejoin="round">
<use href="#k49" transform="translate(0.00 0) scale(18.466 15.300)"/>
<use href="#k50" transform="translate(14.03 0) scale(18.466 15.300)"/>
<use href="#k48" transform="translate(29.18 0) scale(18.466 15.300)"/>
<use href="#k48" transform="translate(44.69 0) scale(18.466 15.300)"/>
<use href="#k112" transform="translate(60.20 0) scale(18.466 15.300)"/>
</g>
<g transform="translate(802.90 265.90)" stroke="#008484" stroke-width="2.0" fill="none" stroke-linecap="round" stroke-linejoin="round">
<use href="#k67" transform="translate(0.00 0) scale(18.274 15.300)"/>
<use href="#k55" transform="translate(16.08 0) scale(18.274 15.300)"/>
<use href="#k52" transform="translate(31.07 0) scale(18.274 15.300)"/>
</g>
<g transform="translate(787.30 297.30)" stroke="#008484" stroke-width="2.0" fill="none" stroke-linecap="round" stroke-linejoin="round">
<use href="#k51" transform="translate(0.00 0) scale(18.671 15.300)"/>
<use href="#k54" transform="translate(15.31 0) scale(18.671 15.300)"/>
<use href="#k48" transform="translate(30.62 0) scale(18.671 15.300)"/>
<use href="#k112" transform="translate(46.30 0) scale(18.671 15.300)"/>
<use href="#k47" transform="translate(61.61 0) scale(18.671 15.300)"/>
<use href="#k47" transform="translate(76.55 0) scale(18.671 15.300)"/>
<use href="#k51" transform="translate(91.49 0) scale(18.671 15.300)"/>
<use href="#k57" transform="translate(106.80 0) scale(18.671 15.300)"/>
<use href="#k48" transform="translate(122.11 0) scale(18.671 15.300)"/>
<use href="#k112" transform="translate(137.79 0) scale(18.671 15.300)"/>
</g>
<g transform="translate(575.80 390.80)" stroke="#008484" stroke-width="2.0" fill="none" stroke-linecap="round" stroke-linejoin="round">
<use href="#k76" transform="translate(0.00 0) scale(17.644 15.300)"/>
<use href="#k55" transform="translate(14.12 0) scale(17.644 15.300)"/>
<use href="#k49" transform="translate(28.58 0) scale(17.644 15.300)"/>
</g>
<g transform="translate(528.00 422.10)" stroke="#008484" stroke-width="2.0" fill="none" stroke-linecap="round" stroke-linejoin="round">
<use href="#k50" transform="translate(0.00 0) scale(18.077 15.300)"/>
<use href="#k50" transform="translate(14.82 0) scale(18.077 15.300)"/>
<use href="#k84" transform="translate(29.65 0) scale(18.077 15.300)"/>
<use href="#k47" transform="translate(45.55 0) scale(18.077 15.300)"/>
<use href="#k84" transform="translate(60.02 0) scale(18.077 15.300)"/>
<use href="#k51" transform="translate(75.92 0) scale(18.077 15.300)"/>
<use href="#k55" transform="translate(90.75 0) scale(18.077 15.300)"/>
<use href="#k45" transform="translate(105.57 0) scale(18.077 15.300)"/>
<use href="#k50" transform="translate(122.20 0) scale(18.077 15.300)"/>
</g>
<g transform="translate(813.30 390.00)" stroke="#008484" stroke-width="2.0" fill="none" stroke-linecap="round" stroke-linejoin="round">
<use href="#k76" transform="translate(0.00 0) scale(17.243 15.300)"/>
<use href="#k55" transform="translate(13.79 0) scale(17.243 15.300)"/>
<use href="#k50" transform="translate(27.93 0) scale(17.243 15.300)"/>
</g>
<g transform="translate(766.40 422.00)" stroke="#008484" stroke-width="2.0" fill="none" stroke-linecap="round" stroke-linejoin="round">
<use href="#k49" transform="translate(0.00 0) scale(18.102 15.300)"/>
<use href="#k53" transform="translate(13.76 0) scale(18.102 15.300)"/>
<use href="#k84" transform="translate(28.60 0) scale(18.102 15.300)"/>
<use href="#k47" transform="translate(44.53 0) scale(18.102 15.300)"/>
<use href="#k84" transform="translate(59.01 0) scale(18.102 15.300)"/>
<use href="#k51" transform="translate(74.94 0) scale(18.102 15.300)"/>
<use href="#k55" transform="translate(89.79 0) scale(18.102 15.300)"/>
<use href="#k45" transform="translate(104.63 0) scale(18.102 15.300)"/>
<use href="#k50" transform="translate(121.29 0) scale(18.102 15.300)"/>
</g>
<g transform="translate(586.40 488.20)" stroke="#008484" stroke-width="2.0" fill="none" stroke-linecap="round" stroke-linejoin="round">
<use href="#k67" transform="translate(0.00 0) scale(18.657 15.300)"/>
<use href="#k55" transform="translate(16.42 0) scale(18.657 15.300)"/>
<use href="#k49" transform="translate(31.72 0) scale(18.657 15.300)"/>
</g>
<g transform="translate(586.40 515.60)" stroke="#008484" stroke-width="2.0" fill="none" stroke-linecap="round" stroke-linejoin="round">
<use href="#k54" transform="translate(0.00 0) scale(18.067 15.300)"/>
<use href="#k50" transform="translate(14.81 0) scale(18.067 15.300)"/>
<use href="#k48" transform="translate(29.63 0) scale(18.067 15.300)"/>
<use href="#k112" transform="translate(44.81 0) scale(18.067 15.300)"/>
</g>
<g transform="translate(661.00 503.10)" stroke="#008484" stroke-width="2.0" fill="none" stroke-linecap="round" stroke-linejoin="round">
<use href="#k67" transform="translate(0.00 0) scale(18.490 15.300)"/>
<use href="#k55" transform="translate(16.27 0) scale(18.490 15.300)"/>
<use href="#k50" transform="translate(31.43 0) scale(18.490 15.300)"/>
<use href="#k49" transform="translate(46.59 0) scale(18.490 15.300)"/>
</g>
<g transform="translate(661.00 533.90)" stroke="#008484" stroke-width="2.0" fill="none" stroke-linecap="round" stroke-linejoin="round">
<use href="#k49" transform="translate(0.00 0) scale(18.439 15.300)"/>
<use href="#k50" transform="translate(14.01 0) scale(18.439 15.300)"/>
<use href="#k48" transform="translate(29.13 0) scale(18.439 15.300)"/>
<use href="#k48" transform="translate(44.62 0) scale(18.439 15.300)"/>
<use href="#k112" transform="translate(60.11 0) scale(18.439 15.300)"/>
</g>
<g transform="translate(792.70 487.90)" stroke="#008484" stroke-width="2.0" fill="none" stroke-linecap="round" stroke-linejoin="round">
<use href="#k67" transform="translate(0.00 0) scale(18.378 15.300)"/>
<use href="#k55" transform="translate(16.17 0) scale(18.378 15.300)"/>
<use href="#k51" transform="translate(31.24 0) scale(18.378 15.300)"/>
</g>
<g transform="translate(792.70 517.80)" stroke="#008484" stroke-width="2.0" fill="none" stroke-linecap="round" stroke-linejoin="round">
<use href="#k50" transform="translate(0.00 0) scale(18.073 15.300)"/>
<use href="#k50" transform="translate(14.82 0) scale(18.073 15.300)"/>
<use href="#k48" transform="translate(29.64 0) scale(18.073 15.300)"/>
<use href="#k48" transform="translate(44.82 0) scale(18.073 15.300)"/>
<use href="#k112" transform="translate(60.00 0) scale(18.073 15.300)"/>
</g>
<g transform="translate(919.00 488.80)" stroke="#008484" stroke-width="2.0" fill="none" stroke-linecap="round" stroke-linejoin="round">
<use href="#k67" transform="translate(0.00 0) scale(18.468 15.300)"/>
<use href="#k55" transform="translate(16.25 0) scale(18.468 15.300)"/>
<use href="#k53" transform="translate(31.40 0) scale(18.468 15.300)"/>
</g>
<g transform="translate(933.00 665.80) rotate(-90)" stroke="#008484" stroke-width="2.0" fill="none" stroke-linecap="round" stroke-linejoin="round">
<use href="#k49" transform="translate(0.00 0) scale(18.733 15.300)"/>
<use href="#k50" transform="translate(14.24 0) scale(18.733 15.300)"/>
<use href="#k48" transform="translate(29.60 0) scale(18.733 15.300)"/>
<use href="#k48" transform="translate(45.33 0) scale(18.733 15.300)"/>
<use href="#k112" transform="translate(61.07 0) scale(18.733 15.300)"/>
<use href="#k47" transform="translate(76.43 0) scale(18.733 15.300)"/>
<use href="#k47" transform="translate(91.42 0) scale(18.733 15.300)"/>
<use href="#k54" transform="translate(106.40 0) scale(18.733 15.300)"/>
<use href="#k56" transform="translate(121.76 0) scale(18.733 15.300)"/>
<use href="#k48" transform="translate(137.12 0) scale(18.733 15.300)"/>
<use href="#k112" transform="translate(152.86 0) scale(18.733 15.300)"/>
</g>
<g transform="translate(622.00 715.80) rotate(-90)" stroke="#008484" stroke-width="2.0" fill="none" stroke-linecap="round" stroke-linejoin="round">
<use href="#k120" transform="translate(0.00 0) scale(17.290 15.300)"/>
<use href="#k49" transform="translate(13.83 0) scale(17.290 15.300)"/>
<use href="#k52" transform="translate(26.97 0) scale(17.290 15.300)"/>
<use href="#k95" transform="translate(41.84 0) scale(17.290 15.300)"/>
<use href="#k70" transform="translate(58.79 0) scale(17.290 15.300)"/>
<use href="#k101" transform="translate(72.62 0) scale(17.290 15.300)"/>
<use href="#k109" transform="translate(87.14 0) scale(17.290 15.300)"/>
<use href="#k97" transform="translate(104.78 0) scale(17.290 15.300)"/>
<use href="#k108" transform="translate(118.96 0) scale(17.290 15.300)"/>
<use href="#k101" transform="translate(126.56 0) scale(17.290 15.300)"/>
</g>
<polygon points="438.3,434.9 539.4,434.9 547,447.7 539.4,461 438.3,461" fill="none" stroke="#840000" stroke-width="2"/>
<g transform="translate(445.20 454.40)" stroke="#840000" stroke-width="2.0" fill="none" stroke-linecap="round" stroke-linejoin="round">
<use href="#k76" transform="translate(0.00 0) scale(16.792 15.000)"/>
<use href="#k80" transform="translate(13.43 0) scale(16.792 15.000)"/>
<use href="#k70" transform="translate(27.88 0) scale(16.792 15.000)"/>
<use href="#k95" transform="translate(41.31 0) scale(16.792 15.000)"/>
<use href="#k73" transform="translate(59.45 0) scale(15.000 15.000)"/>
<use href="#k78" transform="translate(66.16 0) scale(16.792 15.000)"/>
<use href="#k55" transform="translate(80.27 0) scale(16.792 15.000)"/>
</g>
<polygon points="879.1,447.7 887.3,434.9 1008.6,434.9 1008.6,461.1 887.3,461.1" fill="none" stroke="#840000" stroke-width="2"/>
<g transform="translate(893.20 454.50)" stroke="#840000" stroke-width="2.0" fill="none" stroke-linecap="round" stroke-linejoin="round">
<use href="#k76" transform="translate(0.00 0) scale(16.336 15.000)"/>
<use href="#k80" transform="translate(13.07 0) scale(16.336 15.000)"/>
<use href="#k70" transform="translate(27.12 0) scale(16.336 15.000)"/>
<use href="#k95" transform="translate(40.19 0) scale(16.336 15.000)"/>
<use href="#k79" transform="translate(56.20 0) scale(16.336 15.000)"/>
<use href="#k85" transform="translate(71.23 0) scale(16.336 15.000)"/>
<use href="#k84" transform="translate(85.93 0) scale(16.336 15.000)"/>
<use href="#k55" transform="translate(100.31 0) scale(16.336 15.000)"/>
</g>
<line x1="547" y1="448.0" x2="562" y2="448.0" stroke="#840000" stroke-width="2" stroke-linecap="butt"/>
<path d="M562 448.0 A7.96 7.96 0 0 1 577.92 448.0 A7.96 7.96 0 0 1 593.85 448.0 A7.96 7.96 0 0 1 609.78 448.0 A7.96 7.96 0 0 1 625.70 448.0" fill="none" stroke="#840000" stroke-width="2"/>
<line x1="625.7" y1="448.0" x2="679.6" y2="448.0" stroke="#840000" stroke-width="2" stroke-linecap="butt"/>
<line x1="698.7" y1="448.0" x2="784" y2="448.0" stroke="#840000" stroke-width="2" stroke-linecap="butt"/>
<path d="M784 448.0 A8.03 8.03 0 0 1 800.05 448.0 A8.03 8.03 0 0 1 816.10 448.0 A8.03 8.03 0 0 1 832.15 448.0 A8.03 8.03 0 0 1 848.20 448.0" fill="none" stroke="#840000" stroke-width="2"/>
<line x1="848.2" y1="448.0" x2="863.6" y2="448.0" stroke="#840000" stroke-width="2" stroke-linecap="butt"/>
<line x1="863.6" y1="448.0" x2="879.1" y2="448.0" stroke="#008400" stroke-width="2" stroke-linecap="butt"/>
<line x1="679.6" y1="422.7" x2="679.6" y2="473.3" stroke="#840000" stroke-width="6.0" stroke-linecap="round"/>
<line x1="698.7" y1="422.7" x2="698.7" y2="473.3" stroke="#840000" stroke-width="6.0" stroke-linecap="round"/>
<line x1="642" y1="337.2" x2="679.8" y2="337.2" stroke="#840000" stroke-width="2" stroke-linecap="butt"/>
<line x1="698.8" y1="337.2" x2="736.7" y2="337.2" stroke="#840000" stroke-width="2" stroke-linecap="butt"/>
<line x1="680" y1="312" x2="680" y2="362.6" stroke="#840000" stroke-width="6.0" stroke-linecap="round"/>
<line x1="698.8" y1="312" x2="698.8" y2="362.6" stroke="#840000" stroke-width="6.0" stroke-linecap="round"/>
<line x1="768.1" y1="337.2" x2="806.3" y2="337.2" stroke="#840000" stroke-width="2" stroke-linecap="butt"/>
<line x1="825.2" y1="337.2" x2="863.7" y2="337.2" stroke="#840000" stroke-width="2" stroke-linecap="butt"/>
<line x1="806.3" y1="312" x2="806.3" y2="362.6" stroke="#840000" stroke-width="6.0" stroke-linecap="round"/>
<line x1="825.2" y1="312" x2="825.2" y2="362.6" stroke="#840000" stroke-width="6.0" stroke-linecap="round"/>
<line x1="642" y1="336.2" x2="642" y2="448.0" stroke="#008400" stroke-width="2"/>
<line x1="736.7" y1="336.2" x2="736.7" y2="448.0" stroke="#008400" stroke-width="2"/>
<line x1="768.1" y1="336.2" x2="768.1" y2="448.0" stroke="#008400" stroke-width="2"/>
<line x1="863.7" y1="336.2" x2="863.7" y2="448.0" stroke="#008400" stroke-width="2"/>
<line x1="547" y1="448.0" x2="547" y2="486.1" stroke="#840000" stroke-width="2" stroke-linecap="butt"/>
<line x1="547" y1="505.2" x2="547" y2="543" stroke="#840000" stroke-width="2" stroke-linecap="butt"/>
<line x1="521.2" y1="486.1" x2="572.6" y2="486.1" stroke="#840000" stroke-width="6.0" stroke-linecap="round"/>
<line x1="521.2" y1="505.2" x2="572.6" y2="505.2" stroke="#840000" stroke-width="6.0" stroke-linecap="round"/>
<line x1="752.6" y1="448.0" x2="752.6" y2="486.1" stroke="#840000" stroke-width="2" stroke-linecap="butt"/>
<line x1="752.6" y1="505.2" x2="752.6" y2="543" stroke="#840000" stroke-width="2" stroke-linecap="butt"/>
<line x1="727.2" y1="486.1" x2="778.1" y2="486.1" stroke="#840000" stroke-width="6.0" stroke-linecap="round"/>
<line x1="727.2" y1="505.2" x2="778.1" y2="505.2" stroke="#840000" stroke-width="6.0" stroke-linecap="round"/>
<line x1="879.1" y1="448.0" x2="879.1" y2="486.1" stroke="#840000" stroke-width="2" stroke-linecap="butt"/>
<line x1="879.1" y1="505.2" x2="879.1" y2="543" stroke="#840000" stroke-width="2" stroke-linecap="butt"/>
<line x1="853.4" y1="486.1" x2="905.2" y2="486.1" stroke="#840000" stroke-width="6.0" stroke-linecap="round"/>
<line x1="853.4" y1="505.2" x2="905.2" y2="505.2" stroke="#840000" stroke-width="6.0" stroke-linecap="round"/>
<circle cx="642" cy="448.0" r="6.8" fill="#008400"/>
<circle cx="736.7" cy="448.0" r="6.8" fill="#008400"/>
<circle cx="752.5" cy="448.0" r="6.8" fill="#008400"/>
<circle cx="768.1" cy="448.0" r="6.8" fill="#008400"/>
<circle cx="863.6" cy="448.0" r="6.8" fill="#008400"/>
<g stroke="#0000c2" stroke-width="2.3" fill="none" stroke-linecap="round" stroke-linejoin="round">
<use href="#k56" transform="translate(491.45 315.75) scale(40.000 36.500)"/>
<use href="#k48" transform="translate(527.15 315.75) scale(38.333 36.500)"/>
<use href="#k109" transform="translate(564.45 315.75) scale(44.444 36.500)"/>
</g>
<g stroke="#0000c2" stroke-width="2.0" fill="none" stroke-linecap="round" stroke-linejoin="round">
<use href="#k65" transform="translate(1041.70 312.10) scale(30.606 30.400)"/>
<use href="#k108" transform="translate(1072.10 312.10) scale(36.429 30.400)"/>
<use href="#k108" transform="translate(1087.40 312.10) scale(35.714 30.400)"/>
<use href="#k102" transform="translate(1124.80 312.10) scale(32.059 30.400)"/>
<use href="#k105" transform="translate(1146.45 312.10) scale(30.400 30.400)"/>
<circle cx="1146.45" cy="284.13" r="1.70" fill="#0000c2" stroke="none"/>
<use href="#k108" transform="translate(1160.00 312.10) scale(44.286 30.400)"/>
<use href="#k116" transform="translate(1174.00 312.10) scale(34.063 30.400)"/>
<use href="#k101" transform="translate(1192.80 312.10) scale(33.148 30.400)"/>
<use href="#k114" transform="translate(1222.00 312.10) scale(28.667 30.400)"/>
<use href="#k99" transform="translate(1263.00 312.10) scale(31.200 30.400)"/>
<use href="#k97" transform="translate(1290.00 312.10) scale(32.115 30.400)"/>
<use href="#k112" transform="translate(1318.10 312.10) scale(32.115 30.400)"/>
<use href="#k97" transform="translate(1346.20 312.10) scale(32.308 30.400)"/>
</g>
<g stroke="#0000c2" stroke-width="2.0" fill="none" stroke-linecap="round" stroke-linejoin="round">
<use href="#k114" transform="translate(1045.90 360.00) scale(30.000 30.400)"/>
<use href="#k97" transform="translate(1063.90 360.00) scale(30.000 30.400)"/>
<use href="#k116" transform="translate(1087.40 360.00) scale(39.687 30.400)"/>
<use href="#k101" transform="translate(1108.40 360.00) scale(31.111 30.400)"/>
<use href="#k100" transform="translate(1135.40 360.00) scale(31.346 30.400)"/>
<use href="#k102" transform="translate(1185.70 360.00) scale(32.059 30.400)"/>
<use href="#k111" transform="translate(1205.70 360.00) scale(30.926 30.400)"/>
<use href="#k114" transform="translate(1235.00 360.00) scale(30.667 30.400)"/>
<use href="#k97" transform="translate(1276.00 360.00) scale(29.808 30.400)"/>
<use href="#k116" transform="translate(1300.50 360.00) scale(41.562 30.400)"/>
<use href="#k108" transform="translate(1347.40 360.00) scale(36.429 30.400)"/>
</g>
<g stroke="#0000c2" stroke-width="2.0" fill="none" stroke-linecap="round" stroke-linejoin="round">
<use href="#k85" transform="translate(1045.90 408.80) scale(30.667 30.400)"/>
<use href="#k115" transform="translate(1076.80 408.80) scale(31.304 30.400)"/>
<use href="#k101" transform="translate(1101.40 408.80) scale(29.815 30.400)"/>
<use href="#k111" transform="translate(1151.80 408.80) scale(30.000 30.400)"/>
<use href="#k110" transform="translate(1181.80 408.80) scale(29.783 30.400)"/>
<use href="#k108" transform="translate(1209.20 408.80) scale(35.714 30.400)"/>
<use href="#k121" transform="translate(1222.00 408.80) scale(30.000 30.400)"/>
<use href="#k111" transform="translate(1271.70 408.80) scale(30.185 30.400)"/>
<use href="#k114" transform="translate(1301.70 408.80) scale(28.333 30.400)"/>
<use href="#k105" transform="translate(1321.00 408.80) scale(30.400 30.400)"/>
<circle cx="1321.00" cy="380.83" r="1.70" fill="#0000c2" stroke="none"/>
<use href="#k103" transform="translate(1333.30 408.80) scale(31.346 30.400)"/>
</g>
<g stroke="#0000c2" stroke-width="2.0" fill="none" stroke-linecap="round" stroke-linejoin="round">
<use href="#k84" transform="translate(1042.20 456.70) scale(30.000 30.400)"/>
<use href="#k111" transform="translate(1067.90 456.70) scale(31.111 30.400)"/>
<use href="#k114" transform="translate(1097.40 456.70) scale(30.000 30.400)"/>
<use href="#k111" transform="translate(1115.50 456.70) scale(29.630 30.400)"/>
<use href="#k105" transform="translate(1144.95 456.70) scale(30.400 30.400)"/>
<circle cx="1144.95" cy="428.73" r="1.70" fill="#0000c2" stroke="none"/>
<use href="#k100" transform="translate(1157.60 456.70) scale(30.962 30.400)"/>
<use href="#k99" transform="translate(1209.20 456.70) scale(28.800 30.400)"/>
<use href="#k111" transform="translate(1236.10 456.70) scale(31.111 30.400)"/>
<use href="#k114" transform="translate(1265.40 456.70) scale(32.333 30.400)"/>
<use href="#k101" transform="translate(1284.10 456.70) scale(29.815 30.400)"/>
<use href="#k115" transform="translate(1309.90 456.70) scale(31.304 30.400)"/>
</g>
<g stroke="#0000c2" stroke-width="2.0" fill="none" stroke-linecap="round" stroke-linejoin="round">
<use href="#k82" transform="translate(1045.90 505.00) scale(30.517 30.400)"/>
<use href="#k101" transform="translate(1075.00 505.00) scale(30.000 30.400)"/>
<use href="#k108" transform="translate(1103.80 505.00) scale(40.714 30.400)"/>
<use href="#k97" transform="translate(1117.80 505.00) scale(30.000 30.400)"/>
<use href="#k121" transform="translate(1140.10 505.00) scale(34.423 30.400)"/>
<use href="#k115" transform="translate(1169.40 505.00) scale(31.087 30.400)"/>
<use href="#k97" transform="translate(1218.50 505.00) scale(30.000 30.400)"/>
<use href="#k114" transform="translate(1247.80 505.00) scale(28.667 30.400)"/>
<use href="#k101" transform="translate(1265.40 505.00) scale(29.630 30.400)"/>
<use href="#k84" transform="translate(1313.90 505.00) scale(30.000 30.400)"/>
<use href="#k72" transform="translate(1342.70 505.00) scale(28.833 30.400)"/>
</g>
<g stroke="#0000c2" stroke-width="2.0" fill="none" stroke-linecap="round" stroke-linejoin="round">
<use href="#k97" transform="translate(1044.00 553.90) scale(30.000 30.400)"/>
<use href="#k110" transform="translate(1073.30 553.90) scale(29.783 30.400)"/>
<use href="#k100" transform="translate(1099.80 553.90) scale(30.769 30.400)"/>
<use href="#k115" transform="translate(1152.20 553.90) scale(30.435 30.400)"/>
<use href="#k116" transform="translate(1176.40 553.90) scale(37.500 30.400)"/>
<use href="#k114" transform="translate(1197.50 553.90) scale(32.333 30.400)"/>
<use href="#k97" transform="translate(1215.00 553.90) scale(30.000 30.400)"/>
<use href="#k105" transform="translate(1243.85 553.90) scale(30.400 30.400)"/>
<circle cx="1243.85" cy="525.93" r="1.70" fill="#0000c2" stroke="none"/>
<use href="#k103" transform="translate(1257.20 553.90) scale(31.346 30.400)"/>
<use href="#k104" transform="translate(1286.50 553.90) scale(30.000 30.400)"/>
<use href="#k116" transform="translate(1309.90 553.90) scale(40.000 30.400)"/>
<use href="#k101" transform="translate(1331.00 553.90) scale(28.704 30.400)"/>
</g>
<polyline points="948.9,720 948.9,650 1360,650" fill="none" stroke="#840000" stroke-width="2"/>
</g>
</svg>
<path d="M1040.5 155.5V171.5L1044.5 167.5L1047.5 173.5L1050 172.5L1047 166.5H1052Z" fill="#fff" stroke="#000" stroke-width="1" stroke-linejoin="miter"/>
<rect x="1350" y="135" width="16" height="593" fill="#f0f0f0"/>
<rect x="1350" y="479" width="15" height="110" fill="#cdcdcd"/>
<path d="M1353.8 145.5L1357.3 142L1360.8 145.5" fill="none" stroke="#505050" stroke-width="1.8"/>
<path d="M1353.8 701L1357.3 704.5L1360.8 701" fill="none" stroke="#505050" stroke-width="1.8"/>
<rect x="0" y="712" width="1350" height="16" fill="#f0f0f0"/>
<rect x="500" y="712" width="411" height="15" fill="#cdcdcd"/>
<path d="M9.8 716L6.3 719.5L9.8 723" fill="none" stroke="#505050" stroke-width="1.8"/>
<path d="M1339.5 716L1343 719.5L1339.5 723" fill="none" stroke="#505050" stroke-width="1.8"/>
<rect x="0" y="728" width="1366" height="8" fill="#101010"/>
<rect x="48" y="728" width="343.5" height="8" fill="#f2f2f2"/>
<rect x="48" y="728" width="343.5" height="1" fill="#a0a0a0"/>
<rect x="542" y="728" width="48" height="8" fill="#333333"/>
<rect x="1361" y="728" width="1" height="8" fill="#606060"/>
<text x="1265.5" y="741" font-size="12" fill="#ffffff" textLength="27" lengthAdjust="spacingAndGlyphs">20:08</text>
</svg>
</body></html>
